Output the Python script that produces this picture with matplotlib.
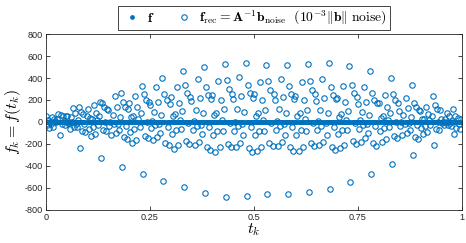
import numpy as np
import matplotlib
matplotlib.use("Agg")
import matplotlib.pyplot as plt

# Samples t_k = k/400; the reconstruction repeats a 20-sample pattern,
# so each list below is one sample position inside the pattern, read
# period by period (20 periods from t=0 to t=1).
N = 400
rec_phase00 = [52, 58, 118, 105, 171, 150, 226, 190, 245, 208, 250, 198, 240, 191, 222, 160, 170, 104, 101, 30]
rec_phase01 = [-30, -12, -60, -38, -88, -58, -112, -75, -120, -80, -118, -76, -115, -70, -108, -60, -85, -35, -52, -8]
rec_phase02 = [22, -6, 35, -2, 48, 8, 55, 12, 60, 4, 58, 10, 52, 6, 45, 14, 38, -4, 26, -2]
rec_phase03 = [-52, -60, -128, -118, -190, -168, -245, -210, -270, -228, -265, -220, -262, -212, -240, -178, -182, -118, -108, -30]
rec_phase04 = [4, 42, 28, 66, 52, 92, 70, 112, 82, 118, 80, 114, 82, 108, 72, 94, 52, 68, 28, 30]
rec_phase05 = [-22, -4, -42, -18, -60, -28, -75, -36, -80, -40, -78, -38, -76, -35, -70, -28, -56, -18, -36, 0]
rec_phase06 = [48, 128, 150, 232, 240, 318, 322, 390, 370, 408, 362, 392, 360, 388, 330, 320, 245, 222, 138, 80]
rec_phase07 = [-46, -48, -108, -98, -160, -140, -205, -178, -230, -190, -226, -182, -225, -178, -205, -146, -158, -96, -94, -24]
rec_phase08 = [24, 78, 80, 134, 132, 182, 176, 222, 200, 236, 196, 228, 198, 222, 180, 186, 132, 130, 74, 50]
rec_phase09 = [12, -14, 20, -18, 25, -22, 18, -26, 14, -20, 22, -16, 26, -12, 20, -22, 16, -10, 18, -6]
rec_phase10 = [-4, -44, -26, -72, -48, -96, -68, -112, -80, -120, -78, -116, -80, -114, -70, -96, -50, -70, -24, -32]
rec_phase11 = [28, 18, 58, 42, 80, 64, 102, 78, 114, 88, 112, 84, 110, 80, 102, 66, 80, 42, 50, 6]
rec_phase12 = [73, 139, 185, 261, 327, 397, 464, 503, 524, 533, 518, 518, 530, 536, 506, 464, 403, 336, 236, 115]
rec_phase13 = [-118, -239, -330, -406, -473, -536, -588, -648, -679, -676, -658, -655, -639, -612, -542, -476, -382, -300, -209, -105]
rec_phase14 = [68, 92, 170, 178, 258, 256, 336, 320, 378, 338, 372, 328, 370, 320, 338, 262, 256, 174, 152, 50]
rec_phase15 = [-18, -80, -74, -140, -126, -188, -170, -228, -198, -240, -194, -232, -192, -228, -172, -192, -126, -136, -66, -54]
rec_phase16 = [56, 70, 136, 136, 204, 196, 266, 246, 298, 260, 292, 252, 292, 246, 266, 202, 204, 132, 122, 36]
rec_phase17 = [8, -22, 4, -34, -2, -42, -8, -48, -10, -50, -8, -46, -12, -44, -10, -40, -4, -30, 2, -16]
rec_phase18 = [-24, -92, -86, -156, -146, -212, -196, -256, -228, -270, -222, -262, -222, -258, -198, -216, -146, -154, -76, -60]
rec_phase19 = [50, 58, 120, 114, 178, 166, 228, 208, 258, 218, 254, 212, 252, 208, 230, 170, 176, 112, 108, 28]

x_ticks = [0, 0.25, 0.5, 0.75, 1]
x_tick_labels = ["0", "0.25", "0.5", "0.75", "1"]
y_ticks = [-800, -600, -400, -200, 0, 200, 400, 600, 800]

phases = [rec_phase00, rec_phase01, rec_phase02, rec_phase03, rec_phase04,
          rec_phase05, rec_phase06, rec_phase07, rec_phase08, rec_phase09,
          rec_phase10, rec_phase11, rec_phase12, rec_phase13, rec_phase14,
          rec_phase15, rec_phase16, rec_phase17, rec_phase18, rec_phase19]
f_rec = np.array(phases).T.ravel()
t = np.arange(N) / N
f_true = np.zeros(N)  # true samples sit on zero at this scale

blue = "#0072BD"
plt.rcParams["mathtext.fontset"] = "cm"
plt.rcParams["font.family"] = "Liberation Sans"
plt.rcParams["axes.unicode_minus"] = False

fig = plt.figure(figsize=(4.66, 2.43), dpi=100)
ax = fig.add_axes([0.0987, 0.136, 0.892, 0.724])

ax.plot(t, f_true, ".", color=blue, markersize=4.8, label=r"$\mathbf{f}$")
ax.plot(t, f_rec, "o", color=blue, markerfacecolor="none", markersize=3.9,
        markeredgewidth=0.8,
        label=r"$\mathbf{f}_{\mathrm{rec}} = \mathbf{A}^{-1}\mathbf{b}_{\mathrm{noise}}\ \ (10^{-3}\|\mathbf{b}\|\ \mathrm{noise})$")

ax.set_xlim(0, 1)
ax.set_ylim(-800, 800)
ax.set_xticks(x_ticks)
ax.set_xticklabels(x_tick_labels)
ax.set_yticks(y_ticks)
ax.tick_params(direction="in", length=3, width=0.6, labelsize=6.6,
               top=True, right=True, colors="#262626", pad=2)
for s in ax.spines.values():
    s.set_linewidth(0.6)
    s.set_color("#262626")

ax.set_xlabel(r"$t_k$", fontsize=11.5, labelpad=0)
ax.set_ylabel(r"$f_k = f(t_k)$", fontsize=11.5, labelpad=1)

leg = ax.legend(loc="center", bbox_to_anchor=(0.545, 0.926),
                bbox_transform=fig.transFigure, ncol=2, fontsize=9.8,
                fancybox=False, edgecolor="#262626", framealpha=1,
                handletextpad=0.3, columnspacing=1.4, borderpad=0.2,
                handlelength=1.6)
leg.get_frame().set_linewidth(0.6)

fig.savefig("out.png", dpi=100)
